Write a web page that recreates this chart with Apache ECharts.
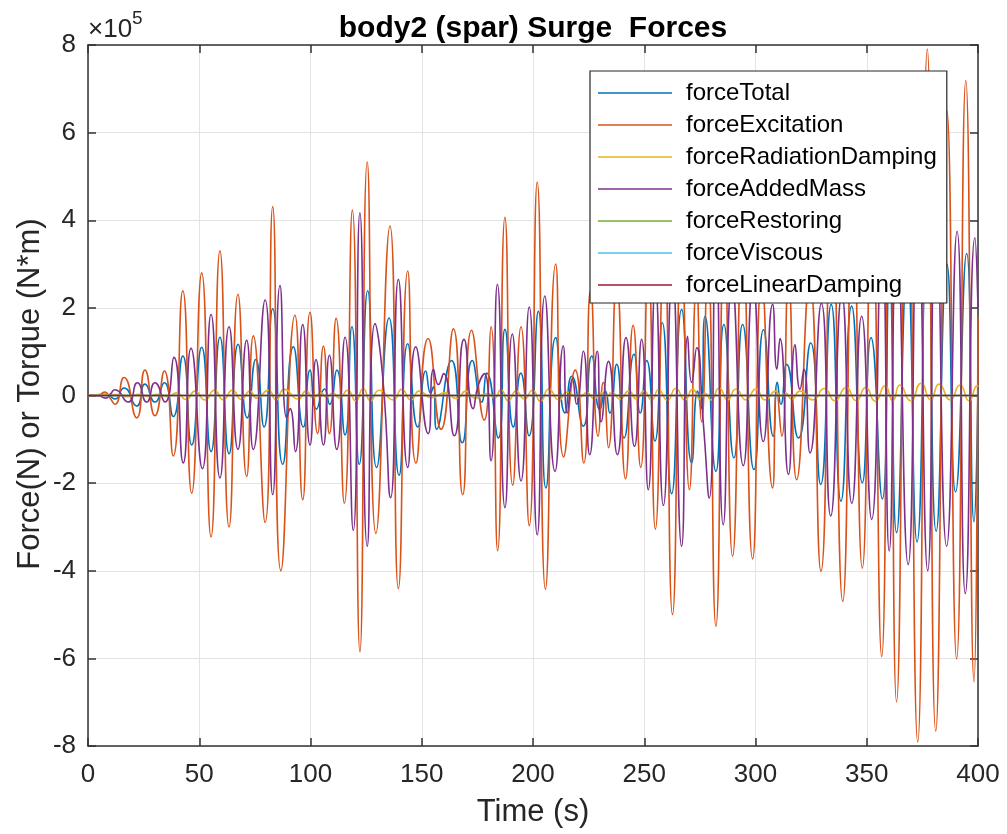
<!DOCTYPE html>
<html>
<head>
<meta charset="utf-8">
<title>body2 (spar) Surge Forces</title>
<script src="https://cdn.jsdelivr.net/npm/echarts@6/dist/echarts.min.js"></script>
<style>
  html, body { margin: 0; padding: 0; background: #ffffff; }
  #chart { width: 1007px; height: 834px; }
</style>
</head>
<body>
<div id="chart"></div>
<script>
// Surge force components on body2 (spar), values in units of 1e5 N, as [time (s), force] pairs.
const forceTotal = [[0,0],[5,0.01],[7.8,0.03],[10,-0.02],[12.1,-0.08],[16.2,0.17],[21.9,-0.24],[25.6,0.26],[30.1,-0.15],[34.3,0.29],[38.3,-0.48],[42.6,0.9],[46.6,-1.13],[51.1,1.1],[55.3,-1.28],[59.3,1.33],[63.4,-1.33],[67.5,1.17],[71.6,-0.51],[75.4,0.82],[79.1,-0.72],[83.0,1.98],[87.5,-1.57],[92.3,1.11],[96.8,-0.72],[99.8,0.58],[102.7,-0.31],[106.3,0.15],[108.6,-0.2],[111.8,0.58],[115.5,-0.9],[118.6,1.57],[121.9,-1.57],[125.7,2.39],[129.7,-1.64],[135.3,1.77],[139.8,-1.82],[143.7,1.18],[148.2,-0.72],[151.8,0.56],[154,0.05],[155.2,0.2],[156.7,-0.77],[163.4,0.8],[168.2,-1.08],[172.7,0.8],[176.9,-0.15],[179.2,0.51],[184.4,-0.97],[187.4,1.51],[191.2,-0.72],[194.5,0.51],[198.2,-0.92],[202.4,1.92],[205.8,-2.11],[210.2,1.32],[214.4,-0.4],[217.4,0.44],[222.6,-0.7],[226.4,0.9],[230.1,-0.32],[232.5,0.1],[234.5,-0.4],[237.6,0.71],[240.9,-0.97],[245.4,0.94],[248.2,-0.4],[251.1,0.8],[254.8,-1.04],[258.1,1.66],[262.3,-2.24],[266.8,1.96],[271.3,-1.54],[274,0.1],[275.5,-0.3],[277.3,1.81],[282.2,-1.73],[285.8,1.62],[290.3,-1.42],[294.2,1.62],[299.3,-1.69],[303.6,1.5],[308,-0.93],[309.8,0.3],[311.4,-0.2],[314,0.71],[319.3,-0.97],[324.8,1.2],[329.3,-2.03],[334,2.08],[338.4,-2.41],[343.2,2.04],[348,-1.99],[351.9,1.32],[357,-2.36],[360.2,2.7],[363.4,-3.13],[368.2,2.9],[372.6,-3.34],[377.2,3.9],[381.2,-3.1],[386,3.0],[389.9,-2.2],[394.9,3.24],[398.2,-2.88],[400,0.2]];

const forceExcitation = [[0,0],[5,0.02],[7.6,0.08],[9.8,-0.05],[12.1,-0.2],[16.2,0.41],[21.9,-0.51],[25.6,0.58],[30.1,-0.46],[34.3,0.56],[38.3,-1.38],[42.6,2.39],[46.6,-2.23],[51.1,2.8],[55.3,-3.23],[59.3,3.3],[63.4,-3.0],[67.4,2.31],[71.3,-1.85],[74.3,1.36],[79.6,-2.9],[83.0,4.31],[86.7,-4.0],[93.0,1.83],[96.5,-2.38],[99.8,1.9],[103.2,-0.87],[105.8,1.13],[108.5,-0.87],[111.5,1.76],[115.2,-2.46],[118.8,4.23],[122.2,-5.85],[125.5,5.33],[129.4,-3.15],[135.7,3.87],[139.5,-4.41],[143.7,2.84],[147.4,-1.54],[152.9,1.3],[158.7,-0.77],[164.2,1.52],[168.4,-2.26],[172.4,1.49],[178.1,-0.56],[181.1,1.57],[184.1,-3.54],[187.4,4.07],[190.9,-2.05],[194.6,1.57],[198.3,-2.97],[201.9,4.87],[205.6,-4.42],[210.2,3.0],[213.8,-1.4],[219.0,0.58],[222.8,-1.54],[225.9,2.4],[229.3,-0.93],[231.6,0.3],[233.9,-1.19],[237.6,2.6],[241.6,-1.9],[245.0,1.6],[248.4,-1.64],[251.8,3.0],[255.0,-3.05],[258.9,3.6],[262.7,-5.0],[266.8,3.4],[270.3,-2.15],[273.5,2.5],[275.8,-0.6],[278.5,3.0],[282.2,-5.27],[286.0,3.5],[289.7,-3.67],[294.2,3.5],[298.7,-3.73],[302.8,2.6],[307.7,-2.11],[309.6,0.1],[311.8,-0.93],[314.8,2.6],[318.5,-1.92],[324.3,2.6],[329.4,-4.01],[334.2,4.8],[339.2,-4.7],[343.8,4.5],[348.0,-3.94],[352.3,4.3],[356.7,-5.96],[360.2,6.2],[363.4,-6.99],[368.2,6.8],[372.9,-7.91],[377.2,7.91],[381.0,-7.66],[386.0,6.5],[390.4,-6.01],[394.5,7.19],[398.2,-6.53],[400,1.8]];

const forceRadiationDamping = [[0,0],[13.6,0.02],[17.7,-0.03],[23.4,0.03],[27.1,-0.03],[31.6,0.03],[35.8,-0.03],[39.8,0.06],[44.1,-0.09],[48.1,0.1],[52.6,-0.1],[56.8,0.12],[60.8,-0.1],[64.9,0.12],[68.9,-0.09],[72.8,0.1],[75.8,-0.06],[81.1,0.12],[84.5,-0.1],[88.2,0.14],[94.5,-0.08],[98,0.1],[101.3,-0.05],[104.7,0.06],[107.3,-0.04],[110,0.06],[113,-0.06],[116.7,0.12],[120.3,-0.12],[123.7,0.16],[127,-0.12],[130.9,0.12],[137.2,-0.1],[141,0.14],[145.2,-0.1],[148.9,0.1],[154.4,-0.05],[160.2,0.06],[165.7,-0.07],[169.9,0.1],[173.9,-0.06],[179.6,0.05],[182.6,-0.06],[185.6,0.13],[188.9,-0.12],[192.4,0.1],[196.1,-0.08],[199.8,0.12],[203.4,-0.13],[207.1,0.15],[211.7,-0.1],[215.3,0.08],[220.5,-0.05],[224.3,0.07],[227.4,-0.07],[230.8,0.06],[233.1,-0.02],[235.4,0.07],[239.1,-0.08],[243.1,0.1],[246.5,-0.08],[249.9,0.1],[253.3,-0.1],[256.5,0.13],[260.4,-0.11],[264.2,0.16],[268.3,-0.1],[271.8,0.14],[275,-0.08],[277.3,0.05],[280,-0.1],[283.7,0.17],[287.5,-0.1],[291.2,0.15],[295.7,-0.1],[300.2,0.15],[304.3,-0.1],[309.2,0.1],[311.1,-0.01],[313.3,0.06],[316.3,-0.08],[320,0.1],[325.8,-0.1],[330.9,0.16],[335.7,-0.12],[340.7,0.18],[345.3,-0.12],[349.5,0.18],[353.8,-0.13],[358.2,0.22],[361.7,-0.12],[364.9,0.24],[369.7,-0.12],[374.4,0.28],[378.7,-0.1],[382.5,0.26],[387.5,-0.1],[391.9,0.24],[396,-0.12],[399.7,0.22],[400,0.2]];

const forceAddedMass = [[0,0],[5,-0.01],[7.8,-0.06],[10,0.03],[12.1,0.13],[18.1,-0.15],[22.2,0.29],[26.4,-0.15],[30.1,0.29],[34.6,-0.15],[38.6,0.87],[42.8,-1.54],[46.3,1.08],[51.4,-1.67],[55.3,1.85],[59.3,-1.88],[63.4,1.57],[67.4,-1.23],[71.3,1.26],[74.3,-1.23],[79.6,2.18],[83.0,-2.26],[86.3,2.51],[89.3,-0.51],[90.8,-0.3],[93.2,-1.28],[96.5,1.62],[99.8,-1.13],[102.5,0.82],[105.8,-1.13],[108.5,0.92],[111.8,-1.23],[115.5,1.33],[119.2,-3.08],[122.2,4.17],[125.5,-3.44],[129.0,1.64],[132.5,0.4],[136.0,-2.33],[139.5,2.65],[143.7,-1.64],[147.3,1.11],[152.9,-0.87],[155.3,0.6],[157.5,0.25],[159.8,0.5],[164.6,-0.92],[169.0,1.28],[173.1,-0.3],[175.5,0.25],[178.3,0.5],[181.1,-1.49],[184.0,2.54],[187.4,-2.56],[190.7,1.4],[194.6,-1.95],[198.3,2.02],[201.9,-3.18],[205.3,2.27],[209.9,-1.73],[213.6,1.13],[215.4,-0.4],[217.7,0.37],[219.6,-0.2],[222.6,1.01],[225.5,-1.35],[228.9,1.01],[230.6,-0.6],[233.9,0.78],[237.9,-1.35],[241.8,1.32],[245.6,-1.16],[248.8,1.28],[251.8,-2.15],[255.0,2.5],[258.6,-2.51],[262.6,2.8],[266.8,-3.44],[269.5,1.35],[271.3,0.3],[273.6,1.09],[276.5,-0.6],[279.2,-2.34],[282.2,3.5],[285.5,-2.95],[289.5,2.6],[294.5,-1.6],[298.9,2.5],[303.5,-1.05],[307.7,2.08],[309.6,0.6],[311.0,1.3],[314.8,-1.8],[317.8,1.16],[320,0.14],[321.8,0.6],[324.5,-1.31],[329.6,2.1],[333.8,-2.75],[338.8,2.3],[343.3,-2.46],[347.7,1.81],[352.2,-2.83],[356.8,3.6],[360.1,-3.55],[363.5,3.86],[368.6,-3.86],[372.9,4.5],[377.4,-4.0],[381.1,4.5],[385.9,-3.44],[390.6,3.75],[394.3,-4.52],[398.6,3.6],[400,2.0]];

const forceRestoring = [[0,0],[400,0]];
const forceViscous = [[0,0],[400,0]];
const forceLinearDamping = [[0,0],[400,0]];

const seriesNames = ['forceTotal','forceExcitation','forceRadiationDamping','forceAddedMass','forceRestoring','forceViscous','forceLinearDamping'];
const seriesData = [forceTotal, forceExcitation, forceRadiationDamping, forceAddedMass, forceRestoring, forceViscous, forceLinearDamping];
const seriesColors = ['#0072BD','#D95319','#EDB120','#7E2F8E','#77AC30','#4DBEEE','#A2142F'];

const xTicks = [0, 400, 50];   // min, max, step
const yTicks = [-8, 8, 2];

const FONT = 'Liberation Sans, Arial, sans-serif';
const AXIS_COLOR = '#333333';
const GRID_COLOR = '#e3e3e3';

const chart = echarts.init(document.getElementById('chart'), null, { renderer: 'canvas' });

const baseAxis = {
  type: 'value',
  axisLine: { show: true, onZero: false, lineStyle: { color: AXIS_COLOR, width: 1.5 } },
  axisTick: { show: true, inside: true, length: 8, lineStyle: { color: AXIS_COLOR, width: 1.5 } },
  splitLine: { show: false },
  axisLabel: { show: false }
};

chart.setOption({
  animation: false,
  backgroundColor: '#ffffff',
  grid: { left: 88, right: 29, top: 45, bottom: 88, containLabel: false },
  xAxis: [
    Object.assign({}, baseAxis, {
      position: 'bottom', min: xTicks[0], max: xTicks[1], interval: xTicks[2],
      splitLine: { show: true, lineStyle: { color: GRID_COLOR, width: 1 } },
      axisLabel: { show: true, fontFamily: FONT, fontSize: 26, color: '#262626', margin: 16 }
    }),
    Object.assign({}, baseAxis, { position: 'top', min: xTicks[0], max: xTicks[1], interval: xTicks[2] })
  ],
  yAxis: [
    Object.assign({}, baseAxis, {
      position: 'left', min: yTicks[0], max: yTicks[1], interval: yTicks[2],
      splitLine: { show: true, lineStyle: { color: GRID_COLOR, width: 1 } },
      axisLabel: { show: true, fontFamily: FONT, fontSize: 26, color: '#262626', margin: 12 }
    }),
    Object.assign({}, baseAxis, { position: 'right', min: yTicks[0], max: yTicks[1], interval: yTicks[2] })
  ],
  legend: {
    orient: 'vertical',
    left: 590, top: 71, z: 20,
    padding: [8, 10, 4, 8],
    icon: 'rect',
    itemWidth: 74, itemHeight: 1.6, itemGap: 4,
    backgroundColor: '#ffffff',
    borderColor: '#262626', borderWidth: 1.2,
    textStyle: { fontFamily: FONT, fontSize: 24, color: '#000000', lineHeight: 28, padding: [0, 0, 0, 9] },
    data: seriesNames
  },
  graphic: [
    { type: 'text', x: 533, y: 29, z: 10,
      style: { text: 'body2 (spar) Surge  Forces', fill: '#000000', font: 'bold 30px ' + FONT, textAlign: 'center', textVerticalAlign: 'middle' } },
    { type: 'text', x: 533, y: 812, z: 10,
      style: { text: 'Time (s)', fill: '#262626', font: '31px ' + FONT, textAlign: 'center', textVerticalAlign: 'middle' } },
    { type: 'text', x: 30, y: 394, rotation: Math.PI / 2, z: 10,
      style: { text: 'Force(N) or Torque (N*m)', fill: '#262626', font: '31px ' + FONT, textAlign: 'center', textVerticalAlign: 'middle' } },
    { type: 'text', x: 88, y: 9, z: 10,
      style: { text: '{a|×10}{b|5}', fill: '#262626',
        rich: { a: { fontFamily: FONT, fontSize: 26, color: '#262626', padding: [8, 0, 0, 0] },
                b: { fontFamily: FONT, fontSize: 19, color: '#262626', verticalAlign: 'top', padding: [0, 0, 10, 0] } } } }
  ],
  series: seriesNames.map(function (name, i) {
    return {
      name: name,
      type: 'line',
      xAxisIndex: 0, yAxisIndex: 0,
      data: seriesData[i],
      symbol: 'none',
      smooth: 0.6,
      lineStyle: { color: seriesColors[i], width: 1.6 },
      itemStyle: { color: seriesColors[i] },
      emphasis: { disabled: true },
      z: 2
    };
  })
});
</script>
</body>
</html>
